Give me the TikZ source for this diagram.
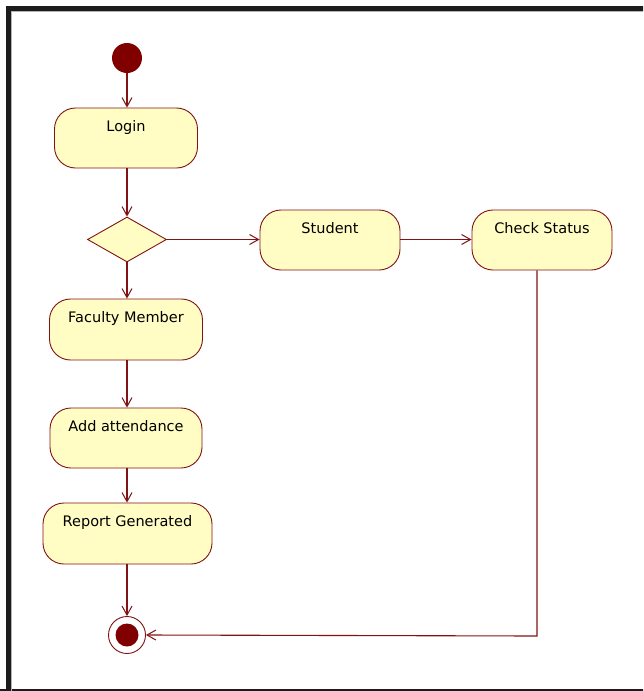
\documentclass[tikz,border=0pt]{standalone}
\usepackage{fontspec}
\setmainfont{DejaVu Sans}
\usetikzlibrary{arrows.meta,shapes.geometric}
\definecolor{maroonline}{RGB}{128,20,20}
\definecolor{maroondot}{RGB}{128,0,0}
\definecolor{actfill}{RGB}{255,252,196}
\definecolor{framecol}{RGB}{28,28,28}
\tikzset{
  act/.style={draw=maroonline, line width=0.9pt, fill=actfill, rounded corners=21pt, inner sep=0pt},
  acttext/.style={font=\fontsize{14.5}{16}\selectfont, text=black, inner sep=0pt, anchor=base},
  flow/.style={draw=maroonline, line width=1.1pt, -{Straight Barb[length=9pt,width=10pt,line width=1pt]}},
  plain/.style={draw=maroonline, line width=1.1pt},
  dec/.style={diamond, draw=maroonline, line width=0.9pt, fill=actfill, inner sep=0pt, minimum width=79pt, minimum height=45pt, aspect=1.75},
}
\newcommand{\actnode}[6]{%
  \node[act, minimum width=#3pt, minimum height=#4pt] (#1) at (#2) {};
  \node[acttext] (#5) at ([yshift=-24pt]#1.north) {#6};
}
\begin{document}
\begin{tikzpicture}[x=1pt,y=-1pt]
\useasboundingbox (0,0) rectangle (643,691);
\clip (0,0) rectangle (643,691);
\fill[white] (0,0) rectangle (643,691);
% frame
\draw[framecol, line width=5pt] (8.5,700) -- (8.5,8.5) -- (700,8.5);
\draw[framecol, line width=5pt] (0,691.5) -- (700,691.5);
\draw[gray!60, line width=0.8pt] (11.6,700) -- (11.6,11.6) -- (700,11.6);

% nodes
\node[circle, fill=maroondot, minimum size=30pt, inner sep=0pt] (init) at (127,58) {};
\actnode{login}{126,138}{143}{60}{loginT}{Login}
\node[dec] (dia) at (127,239.5) {};
\actnode{student}{330,240}{140}{60}{studentT}{Student}
\actnode{check}{542,240}{140}{60}{checkT}{Check Status}
\actnode{faculty}{126,329.5}{153}{61}{facultyT}{Faculty Member}
\actnode{add}{126,438}{152}{60}{addT}{Add attendance}
\actnode{report}{127.5,533.5}{169}{61}{reportT}{Report Generated}
\node[circle, draw=maroonline, line width=0.9pt, fill=white, minimum size=37pt, inner sep=0pt] (final) at (127,635) {};
\node[circle, fill=maroondot, minimum size=23pt, inner sep=0pt] (finalin) at (127,635) {};
\coordinate (bend) at (537,636);

% connectors
\draw[flow] (init) -- (init |- login.north);
\draw[flow] (init |- login.south) -- (dia.north);
\draw[flow] (dia.south) -- (dia.south |- faculty.north);
\draw[flow] (dia.east) -- (student.west |- dia.east);
\draw[flow] (student.east |- dia.east) -- (check.west |- dia.east);
\draw[flow] (dia.south |- faculty.south) -- (dia.south |- add.north);
\draw[flow] (dia.south |- add.south) -- (dia.south |- report.north);
\draw[flow] (dia.south |- report.south) -- (final.north);
\draw[flow] (bend |- check.south) -- (bend) -- (final.east);
\end{tikzpicture}
\end{document}
